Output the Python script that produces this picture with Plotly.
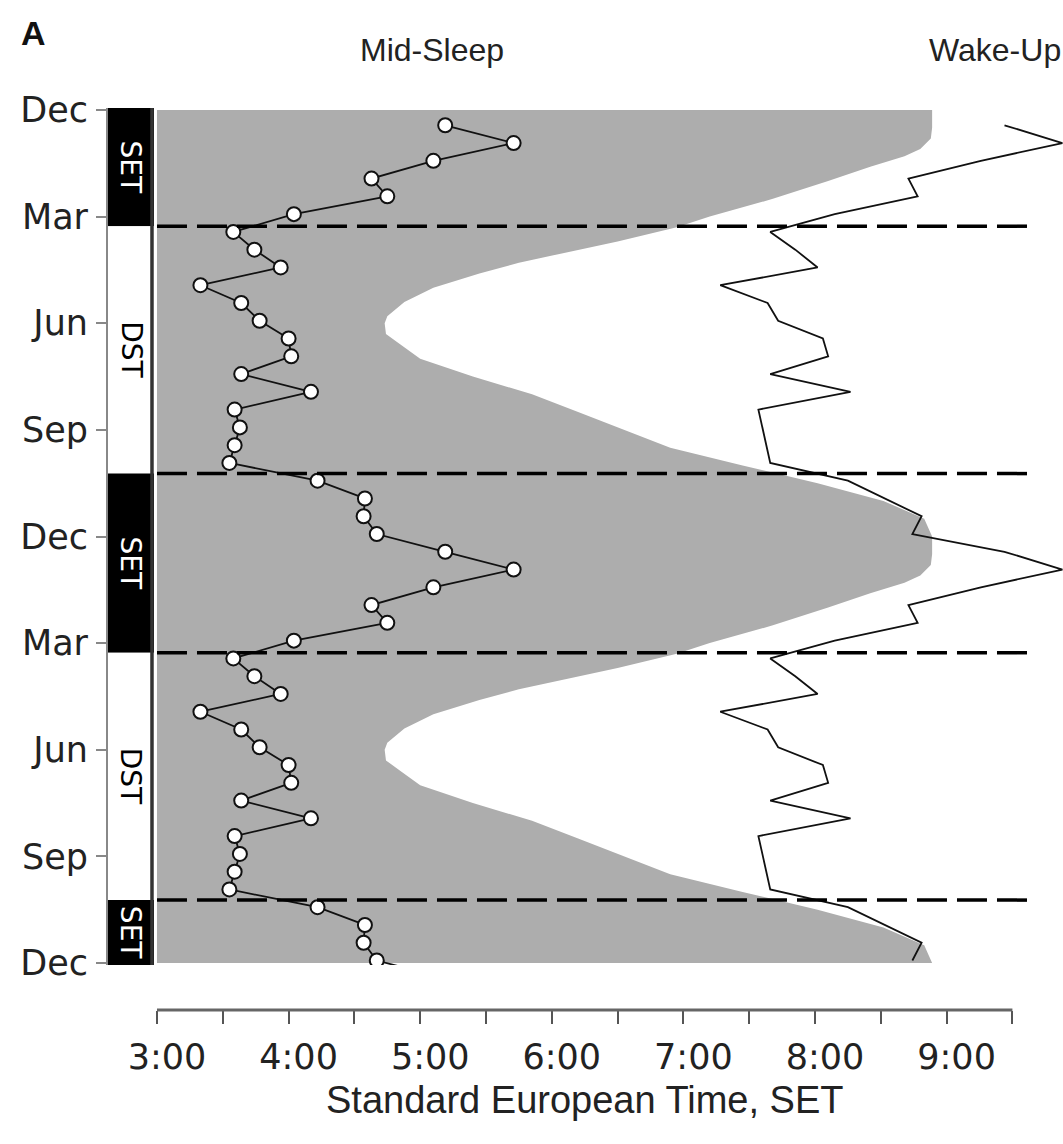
import plotly.graph_objects as go

# ---------------- data ----------------
# month offset (from the first "Dec" tick) of each semi-monthly sample
sample_month = [0.43, 0.93, 1.43, 1.93, 2.43, 2.93, 3.43, 3.93, 4.43, 4.93, 5.43, 5.93,
                6.43, 6.93, 7.43, 7.93, 8.43, 8.93, 9.43, 9.93, 10.43, 10.93, 11.43, 11.93]
# mid-sleep (hours, SET)
mid_sleep_h = [5.19, 5.71, 5.10, 4.63, 4.75, 4.04, 3.58, 3.74, 3.94, 3.33, 3.64, 3.78,
               4.00, 4.02, 3.64, 4.17, 3.59, 3.63, 3.59, 3.55, 4.22, 4.58, 4.57, 4.67]
# wake-up (hours, SET)
wake_up_h = [9.44, 9.88, 9.26, 8.71, 8.78, 8.15, 7.66, 7.85, 8.02, 7.28, 7.64, 7.72,
             8.06, 8.10, 7.66, 8.27, 7.57, 7.60, 7.63, 7.66, 8.25, 8.53, 8.81, 8.74]
# boundary of the dark (pre-dawn) area
dawn_month = [0.0, 0.5, 0.8, 1.1, 1.3, 1.6, 2.0, 2.5, 3.0, 3.3, 3.7, 4.0, 4.3, 4.6, 5.0,
              5.4, 5.8, 6.0, 6.3, 6.6, 7.0, 7.5, 8.0, 8.5, 9.0, 9.5, 10.0, 10.5, 11.0,
              11.5, 12.0]
dawn_h = [8.89, 8.89, 8.88, 8.80, 8.68, 8.42, 8.10, 7.68, 7.20, 6.95, 6.50, 6.12, 5.75,
          5.45, 5.10, 4.88, 4.75, 4.73, 4.74, 4.85, 5.00, 5.40, 5.85, 6.20, 6.55, 6.90,
          7.45, 8.02, 8.52, 8.83, 8.89]
dst_start_month = 3.27
dst_end_month = 10.23
years_shown = [0, 1]

month_ticks = [0, 3, 6, 9, 12, 15, 18, 21, 24]
month_labels = ["Dec", "Mar", "Jun", "Sep", "Dec", "Mar", "Jun", "Sep", "Dec"]
hour_ticks = [3, 3.5, 4, 4.5, 5, 5.5, 6, 6.5, 7, 7.5, 8, 8.5, 9, 9.5]
hour_labels = ["3:00", "", "4:00", "", "5:00", "", "6:00", "", "7:00", "", "8:00", "",
               "9:00", ""]

# ---------------- layout constants ----------------
X_RANGE = [2.6277, 9.8845]
Y_RANGE = [24.056, -0.056]
GRAY = "#adadad"
TICKFONT = dict(family="DejaVu Sans", size=35, color="#222222")

fig = go.Figure()

# dark area polygon (double plotted)
poly_x, poly_y = [3.0], [dawn_month[0]]
for yr in years_shown:
    poly_x += dawn_h
    poly_y += [m + 12 * yr for m in dawn_month]
poly_x.append(3.0)
poly_y.append(dawn_month[-1] + 12 * years_shown[-1])
fig.add_trace(go.Scatter(x=poly_x, y=poly_y, mode="lines", fill="toself",
                         fillcolor=GRAY, line=dict(width=0), hoverinfo="skip",
                         showlegend=False))

# wake-up line
wx, wy = [], []
for yr in years_shown:
    wx += wake_up_h
    wy += [m + 12 * yr for m in sample_month]
fig.add_trace(go.Scatter(x=wx, y=wy, mode="lines",
                         line=dict(color="#111111", width=1.8), showlegend=False))

# mid-sleep line + markers (continues past the last year, clipped by the axes)
mx, my = [], []
for yr in years_shown + [years_shown[-1] + 1]:
    mx += mid_sleep_h
    my += [m + 12 * yr for m in sample_month]
fig.add_trace(go.Scatter(x=mx, y=my, mode="lines+markers",
                         line=dict(color="#111111", width=1.8),
                         marker=dict(symbol="circle", size=14, color="white",
                                     line=dict(color="#111111", width=2)),
                         cliponaxis=True, showlegend=False))

shapes = []
# SET / DST bar
periods = []
edge = Y_RANGE[1]
for yr in years_shown:
    periods.append(("SET", edge, dst_start_month + 12 * yr))
    periods.append(("DST", dst_start_month + 12 * yr, dst_end_month + 12 * yr))
    edge = dst_end_month + 12 * yr
periods.append(("SET", edge, Y_RANGE[0]))
annotations = []
for name, y0, y1 in periods:
    shapes.append(dict(type="rect", xref="x", yref="y", x0=X_RANGE[0], x1=2.977,
                       y0=y0, y1=y1, fillcolor="black" if name == "SET" else "white",
                       line=dict(width=0), layer="above"))
    annotations.append(dict(x=2.80, y=(y0 + y1) / 2, xref="x", yref="y", text=name,
                            textangle=90, showarrow=False, xanchor="center",
                            yanchor="middle",
                            font=dict(family="DejaVu Sans", size=28,
                                      color="white" if name == "SET" else "black")))
shapes.append(dict(type="line", xref="x", yref="y", x0=2.962, x1=2.962,
                   y0=Y_RANGE[1], y1=Y_RANGE[0], line=dict(color="#333333", width=3.5),
                   layer="above"))
# DST transitions
for yr in years_shown:
    for m in (dst_start_month, dst_end_month):
        shapes.append(dict(type="line", xref="x", yref="y", x0=3.0, x1=9.66,
                           y0=m + 12 * yr, y1=m + 12 * yr,
                           line=dict(color="black", width=3.5, dash="30px,10px"),
                           layer="above"))
# x axis line (only over the labelled span)
shapes.append(dict(type="line", xref="x", yref="paper", x0=3.0, x1=9.5, y0=0, y1=0,
                   line=dict(color="#666666", width=3), layer="above"))

annotations += [
    dict(x=5.09, y=1.064, xref="x", yref="paper", text="Mid-Sleep", showarrow=False,
         xanchor="center", yanchor="middle",
         font=dict(family="Liberation Sans", size=32, color="#222222")),
    dict(x=9.37, y=1.064, xref="x", yref="paper", text="Wake-Up", showarrow=False,
         xanchor="center", yanchor="middle",
         font=dict(family="Liberation Sans", size=32, color="#222222")),
    dict(x=-0.0785, y=1.083, xref="paper", yref="paper", text="<b>A</b>", showarrow=False,
         xanchor="center", yanchor="middle",
         font=dict(family="Liberation Sans", size=34, color="#111111")),
    dict(x=6.25, y=-0.10, xref="x", yref="paper", text="Standard European Time, SET",
         showarrow=False, xanchor="center", yanchor="middle",
         font=dict(family="Liberation Sans", size=38, color="#222222")),
]

fig.update_layout(
    width=1063, height=1144,
    margin=dict(l=108, r=0, t=108, b=134, pad=0),
    paper_bgcolor="white", plot_bgcolor="white",
    showlegend=False,
    shapes=shapes, annotations=annotations,
    xaxis=dict(range=X_RANGE, domain=[0, 1], anchor="free", position=0,
               tickmode="array", tickvals=hour_ticks, ticktext=hour_labels,
               ticks="outside", ticklen=13, tickwidth=2, tickcolor="#555555",
               showline=False, showgrid=False, zeroline=False,
               tickfont=TICKFONT, ticklabelshift=10, ticklabelstandoff=3),
    yaxis=dict(range=Y_RANGE, domain=[0.0499, 1],
               tickmode="array", tickvals=month_ticks, ticktext=month_labels,
               ticks="outside", ticklen=10, tickwidth=2, tickcolor="#888888",
               showline=True, linecolor="#888888", linewidth=2,
               showgrid=False, zeroline=False, tickfont=TICKFONT,
               ticklabelstandoff=1),
)

fig.write_html("out.html", config={"displayModeBar": False},
               post_script="document.body.style.margin='0';")
